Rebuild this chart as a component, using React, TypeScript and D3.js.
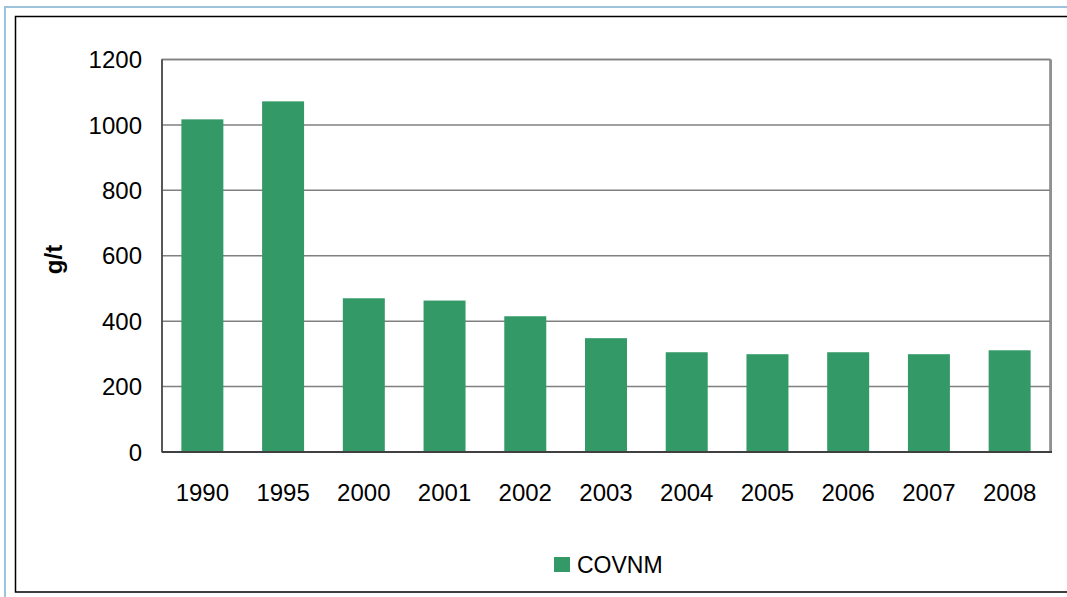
import React from "react";
import * as d3 from "d3";

const categories = ["1990", "1995", "2000", "2001", "2002", "2003", "2004", "2005", "2006", "2007", "2008"];
const covnm = [1017, 1072, 470, 463, 415, 348, 305, 299, 305, 299, 311];
const yTicks = [0, 200, 400, 600, 800, 1000, 1200];
const seriesName = "COVNM";
const yLabel = "g/t";

const W = 1067;
const H = 597;
const plot = { left: 162, top: 59.5, right: 1050, bottom: 452 };
const barColor = "#339966";
const font = "'Liberation Sans', Arial, sans-serif";

export default function App() {
  const x = d3
    .scaleBand<string>()
    .domain(categories)
    .range([plot.left, plot.right])
    .paddingInner(0.48)
    .paddingOuter(0.24);
  const y = d3.scaleLinear().domain([0, 1200]).range([plot.bottom, plot.top]);

  return (
    <svg
      width={W}
      height={H}
      style={{ position: "absolute", left: 0, top: 0, background: "#fff" }}
      fontFamily={font}
    >
      {/* outer light blue frame */}
      <rect x={5} y={7} width={W + 20} height={H + 20} fill="none" stroke="#9cc2dc" strokeWidth={2} />
      {/* inner black frame */}
      <rect x={15.5} y={16.5} width={W + 20} height={592 - 16.5} fill="#fff" stroke="#000" strokeWidth={1.5} />

      {/* plot area */}
      <rect
        x={plot.left}
        y={plot.top}
        width={plot.right - plot.left}
        height={plot.bottom - plot.top}
        fill="#fff"
        stroke="#808080"
        strokeWidth={1.5}
      />
      <line x1={plot.right + 1} x2={plot.right + 1} y1={plot.top} y2={plot.bottom + 1} stroke="#909090" strokeWidth={2} />

      {/* gridlines */}
      {yTicks
        .filter((t) => t !== 0)
        .map((t) => (
          <line key={t} x1={plot.left} x2={plot.right} y1={y(t)} y2={y(t)} stroke="#808080" strokeWidth={1.5} />
        ))}

      {/* bars */}
      {categories.map((c, i) => (
        <rect
          key={c}
          x={x(c)}
          y={y(covnm[i])}
          width={x.bandwidth()}
          height={y(0) - y(covnm[i])}
          fill={barColor}
        />
      ))}

      {/* axes */}
      <line x1={plot.left} x2={plot.left} y1={plot.top} y2={plot.bottom} stroke="#404040" strokeWidth={1.5} />
      <line x1={plot.left} x2={plot.right + 2} y1={plot.bottom} y2={plot.bottom} stroke="#404040" strokeWidth={2} />

      {/* y tick labels */}
      {yTicks.map((t) => (
        <text key={t} x={142} y={y(t)} dy="0.36em" textAnchor="end" fontSize={24} fill="#000">
          {t}
        </text>
      ))}

      {/* x tick labels */}
      {categories.map((c) => (
        <text key={c} x={(x(c) as number) + x.bandwidth() / 2} y={500.5} textAnchor="middle" fontSize={24} fill="#000">
          {c}
        </text>
      ))}

      {/* y axis title */}
      <text
        transform={`translate(62, 259.5) rotate(-90)`}
        textAnchor="middle"
        fontSize={24}
        fontWeight="bold"
        fill="#000"
      >
        {yLabel}
      </text>

      {/* legend */}
      <rect x={554} y={557} width={16} height={15} fill={barColor} />
      <text x={577} y={572.5} fontSize={23} fill="#000">
        {seriesName}
      </text>
    </svg>
  );
}
